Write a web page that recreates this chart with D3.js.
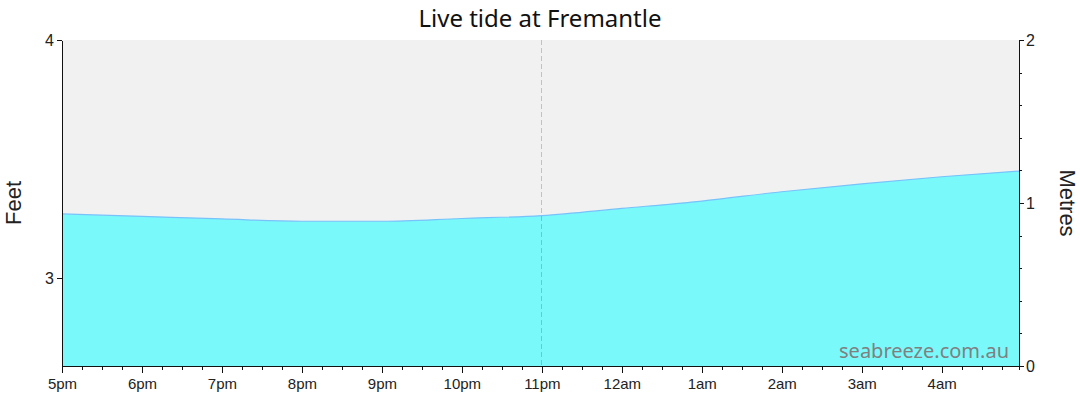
<!DOCTYPE html>
<html>
<head>
<meta charset="utf-8">
<script src="https://cdn.jsdelivr.net/npm/d3@7"></script>
<style>
  body { margin: 0; background: #fff; }
  svg text { font-family: "Liberation Sans", Arial, sans-serif; fill: #222; }
  .title { font-family: "Noto Sans", "DejaVu Sans", sans-serif; font-size: 24px; fill: #111; }
  .mark { font-family: "Noto Sans", "DejaVu Sans", sans-serif; font-size: 20px; fill: #808080; }
  .axis path, .axis line { stroke: #111; shape-rendering: crispEdges; }
  .axis text { font-size: 15px; fill: #222; }
</style>
</head>
<body>
<svg id="chart" width="1080" height="414"></svg>
<script>
// tide readings (local time) and height in metres
const tideTimes = [ '17:00', '18:00', '19:00', '20:00', '21:00', '22:00', '23:00',
                    '00:00', '01:00', '02:00', '03:00', '04:00', '04:58' ]
const tideMetres = [ 0.933, 0.918, 0.902, 0.888, 0.888, 0.905, 0.923,
                     0.967, 1.012, 1.069, 1.117, 1.161, 1.196 ]
const metreTicks = [ 0, 1, 2 ]
const feetTicks = [ 3, 4 ]
const feetDomain = [ 2.63, 4 ]
const metreDomain = [ 0, 2 ]
const nowTime = '23:00'

const margin = { top: 40, right: 61, bottom: 48, left: 62 },
      width = 1080 - margin.left - margin.right,
      height = 414 - margin.top - margin.bottom

// turn 'HH:MM' into a date, rolling past midnight onto the next day
const toDate = t => {
    const [ h, m ] = t.split( ':' ).map( Number )
    return new Date( 2024, 0, h < 12 ? 2 : 1, h, m )
}

const data = tideTimes.map( ( t, i ) => ( { date: toDate( t ), m: tideMetres[ i ] } ) )

const svg = d3.select( '#chart' )
const g = svg.append( 'g' ).attr( 'transform', `translate(${margin.left},${margin.top})` )

const x = d3.scaleTime()
    .domain( [ data[0].date, data[ data.length - 1 ].date ] )
    .range( [ 0, width ] )

const yM = d3.scaleLinear().domain( metreDomain ).range( [ height, 0 ] )
const yF = d3.scaleLinear().domain( feetDomain ).range( [ height, 0 ] )

g.append( 'rect' )
    .attr( 'width', width )
    .attr( 'height', height )
    .attr( 'fill', '#f1f1f1' )

const area = d3.area()
    .x( d => x( d.date ) )
    .y0( height )
    .y1( d => yM( d.m ) )
    .curve( d3.curveMonotoneX )

const line = d3.line()
    .x( d => x( d.date ) )
    .y( d => yM( d.m ) )
    .curve( d3.curveMonotoneX )

g.append( 'path' ).datum( data )
    .attr( 'd', area )
    .attr( 'fill', '#7af9fb' )

g.append( 'path' ).datum( data )
    .attr( 'd', line )
    .attr( 'fill', 'none' )
    .attr( 'stroke', '#78c2fa' )
    .attr( 'stroke-width', 1.2 )

// current time marker
const nx = Math.round( x( toDate( nowTime ) ) ) - 0.5
g.append( 'line' )
    .attr( 'x1', nx ).attr( 'x2', nx )
    .attr( 'y1', 0 ).attr( 'y2', height )
    .attr( 'stroke', 'rgba(235,0,20,0.28)' )
    .attr( 'stroke-dasharray', '5,3' )

g.append( 'text' )
    .attr( 'class', 'mark' )
    .attr( 'x', width - 10 )
    .attr( 'y', height - 8 )
    .attr( 'text-anchor', 'end' )
    .text( 'seabreeze.com.au' )

// x axis: hours with 15 minute minor ticks
const hourFmt = d => d3.timeFormat( '%-I%p' )( d ).toLowerCase()

g.append( 'g' )
    .attr( 'class', 'axis' )
    .attr( 'transform', `translate(0,${height})` )
    .call( d3.axisBottom( x ).ticks( d3.timeMinute.every( 15 ) ).tickSize( 4 ).tickFormat( '' ) )

g.append( 'g' )
    .attr( 'class', 'axis' )
    .attr( 'transform', `translate(0,${height})` )
    .call( d3.axisBottom( x ).ticks( d3.timeHour.every( 1 ) ).tickSize( 7 ).tickFormat( hourFmt ).tickPadding( 5 ) )
    .call( a => a.select( '.domain' ).remove() )

// left axis in feet
g.append( 'g' )
    .attr( 'class', 'axis' )
    .call( d3.axisLeft( yF ).tickValues( feetTicks ).tickFormat( d3.format( 'd' ) )
        .tickSize( 5 ).tickSizeOuter( 0 ).tickPadding( 3 ) )
    .call( a => a.selectAll( 'text' ).style( 'font-size', '16px' ) )

// right axis in metres, quarter metre minor ticks
g.append( 'g' )
    .attr( 'class', 'axis' )
    .attr( 'transform', `translate(${width},0)` )
    .call( d3.axisRight( yM ).ticks( 8 ).tickSize( 3 ).tickSizeOuter( 0 ).tickFormat( '' ) )

g.append( 'g' )
    .attr( 'class', 'axis' )
    .attr( 'transform', `translate(${width},0)` )
    .call( d3.axisRight( yM ).tickValues( metreTicks ).tickFormat( d3.format( 'd' ) )
        .tickSize( 5 ).tickSizeOuter( 0 ).tickPadding( 2 ) )
    .call( a => a.selectAll( 'text' ).style( 'font-size', '16px' ) )
    .call( a => a.select( '.domain' ).remove() )

svg.append( 'text' )
    .attr( 'class', 'title' )
    .attr( 'x', 540 )
    .attr( 'y', 27 )
    .attr( 'text-anchor', 'middle' )
    .text( 'Live tide at Fremantle' )

svg.append( 'text' )
    .attr( 'transform', `translate(21,${margin.top + height / 2}) rotate(-90)` )
    .attr( 'text-anchor', 'middle' )
    .style( 'font-size', '22px' )
    .text( 'Feet' )

svg.append( 'text' )
    .attr( 'transform', `translate(1060,${margin.top + height / 2}) rotate(90)` )
    .attr( 'text-anchor', 'middle' )
    .style( 'font-size', '22px' )
    .text( 'Metres' )
</script>
</body>
</html>
